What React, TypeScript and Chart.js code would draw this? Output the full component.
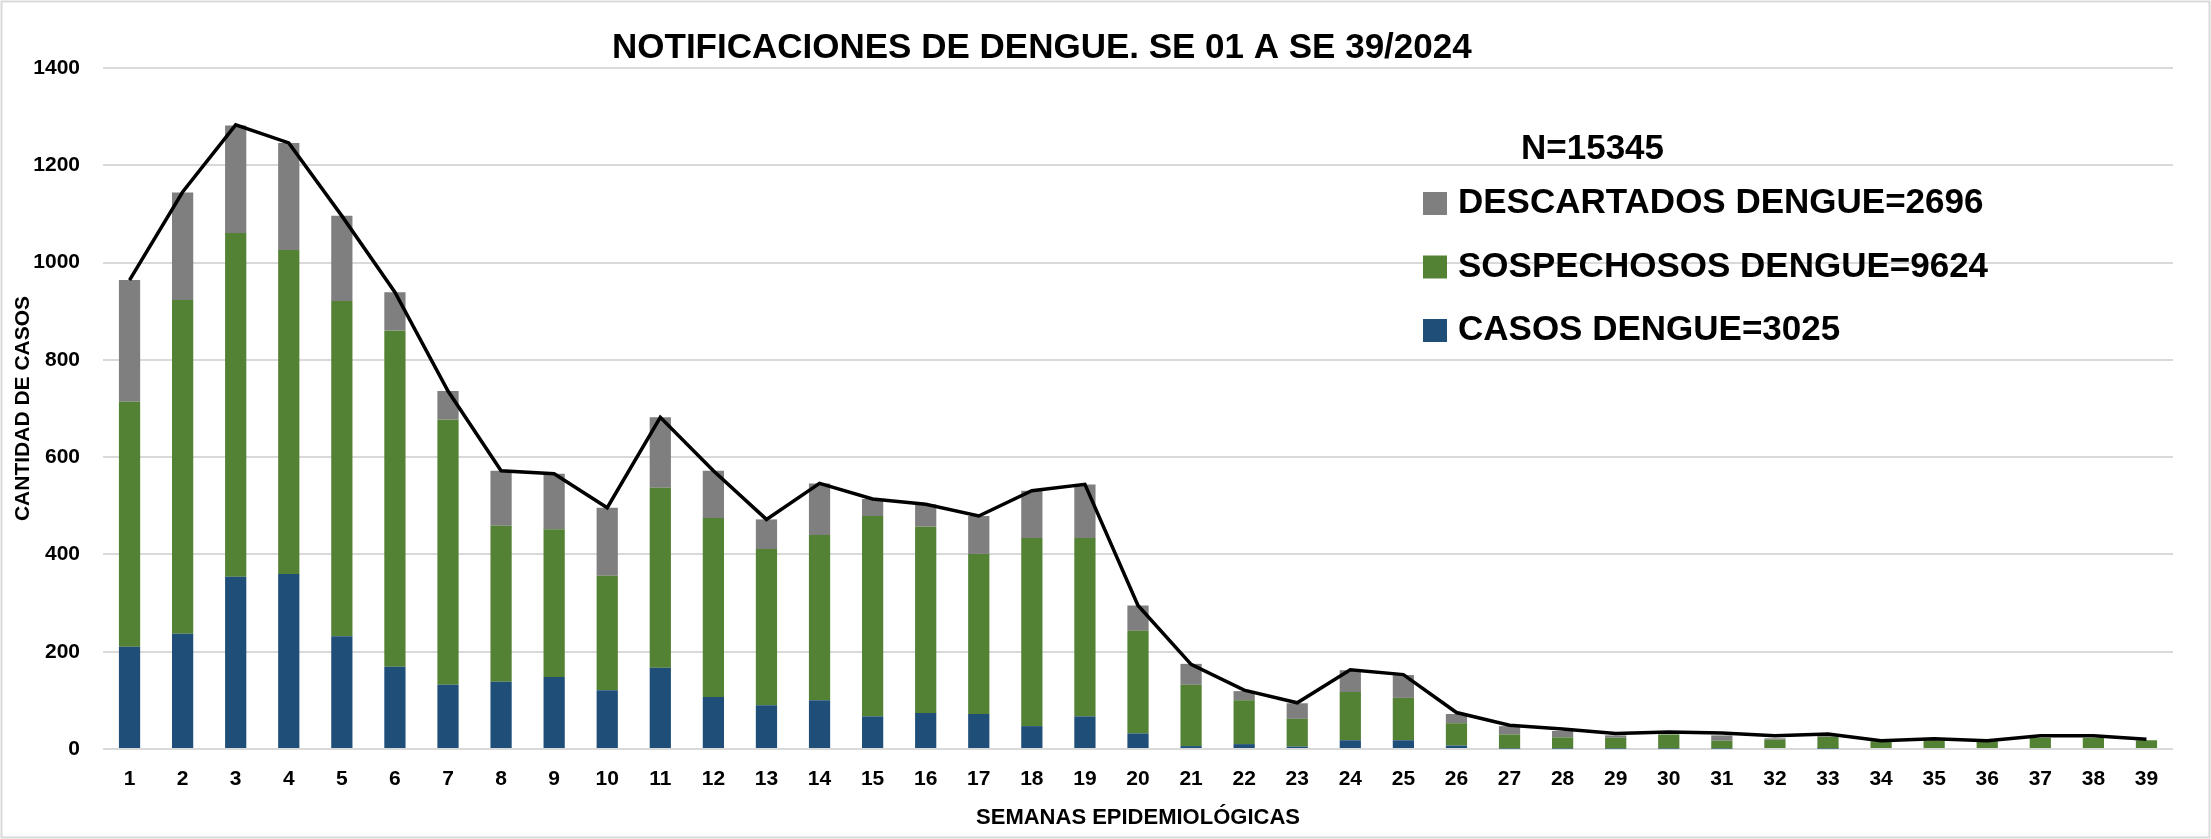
import React, { useEffect, useRef } from "react";
import { Chart, registerables } from "chart.js";

Chart.register(...registerables);

const TITLE = "NOTIFICACIONES DE DENGUE. SE 01 A SE 39/2024";
const N_LABEL = "N=15345";
const Y_TITLE = "CANTIDAD DE CASOS";
const X_TITLE = "SEMANAS EPIDEMIOLÓGICAS";

const WEEKS = [
  "1", "2", "3", "4", "5", "6", "7", "8", "9", "10",
  "11", "12", "13", "14", "15", "16", "17", "18", "19", "20",
  "21", "22", "23", "24", "25", "26", "27", "28", "29", "30",
  "31", "32", "33", "34", "35", "36", "37", "38", "39",
];

const CASOS = [
  210, 237, 354, 360, 232, 169, 132, 138, 148, 121,
  167, 107, 90, 100, 67, 74, 72, 47, 67, 32,
  6, 10, 5, 18, 18, 7, 1, 1, 1, 1,
  1, 0, 1, 0, 0, 0, 0, 0, 0,
];

const SOSPECHOSOS = [
  504, 686, 707, 666, 689, 691, 545, 321, 304, 235,
  370, 368, 321, 340, 412, 383, 329, 387, 367, 211,
  126, 90, 57, 99, 87, 46, 29, 23, 22, 29,
  16, 19, 24, 16, 18, 16, 23, 23, 18,
];

const DESCARTADOS = [
  250, 221, 221, 220, 175, 79, 59, 113, 114, 140,
  145, 97, 61, 106, 35, 46, 78, 97, 110, 52,
  43, 19, 32, 45, 47, 19, 17, 13, 5, 0,
  11, 3, 2, 0, 0, 0, 0, 0, 0,
];

const TOTALES = [
  964, 1145, 1283, 1246, 1096, 939, 736, 572, 566, 496,
  682, 572, 472, 546, 514, 503, 479, 531, 544, 295,
  174, 121, 95, 163, 153, 75, 49, 41, 32, 35,
  33, 27, 31, 17, 21, 17, 27, 27, 20,
];

const LEGEND_LABELS = [
  "DESCARTADOS DENGUE=2696",
  "SOSPECHOSOS DENGUE=9624",
  "CASOS DENGUE=3025",
];

const C_GRAY = "#7f7f7f";
const C_GREEN = "#548235";
const C_BLUE = "#1f4e79";
const FONT = '"Liberation Sans", Arial, sans-serif';

const overlayPlugin = {
  id: "overlay",
  afterDraw(chart: any) {
    const ctx = chart.ctx;
    ctx.save();
    ctx.strokeStyle = "#d9d9d9";
    ctx.lineWidth = 2;
    ctx.strokeRect(1.5, 1.5, chart.width - 3, chart.height - 3);

    ctx.fillStyle = "#000";
    ctx.textAlign = "left";
    ctx.textBaseline = "alphabetic";
    ctx.font = `bold 35px ${FONT}`;
    ctx.fillText(TITLE, 612, 58);
    ctx.fillText(N_LABEL, 1521, 159);

    const colors = [C_GRAY, C_GREEN, C_BLUE];
    LEGEND_LABELS.forEach((label, i) => {
      const base = 213 + i * 63.5;
      ctx.fillStyle = colors[i];
      ctx.fillRect(1423, base - 21, 24, 23);
      ctx.fillStyle = "#000";
      ctx.fillText(label, 1458, base);
    });
    ctx.restore();
  },
};

export default function App() {
  const canvasRef = useRef<HTMLCanvasElement | null>(null);

  useEffect(() => {
    if (!canvasRef.current) return;
    Chart.defaults.font.family = FONT;
    const chart = new Chart(canvasRef.current, {
      type: "bar",
      data: {
        labels: WEEKS,
        datasets: [
          {
            type: "line",
            label: "TOTAL",
            data: TOTALES,
            borderColor: "#000",
            borderWidth: 3.5,
            pointRadius: 0,
            tension: 0,
            fill: false,
            order: 0,
            stack: "total",
          } as any,
          {
            label: "CASOS DENGUE",
            data: CASOS,
            backgroundColor: C_BLUE,
            stack: "s",
            order: 1,
          },
          {
            label: "SOSPECHOSOS DENGUE",
            data: SOSPECHOSOS,
            backgroundColor: C_GREEN,
            stack: "s",
            order: 1,
          },
          {
            label: "DESCARTADOS DENGUE",
            data: DESCARTADOS,
            backgroundColor: C_GRAY,
            stack: "s",
            order: 1,
          },
        ],
      },
      options: {
        responsive: false,
        animation: false,
        layout: { padding: { top: 68, left: 0, right: 38, bottom: 0 } },
        datasets: {
          bar: { categoryPercentage: 1, barPercentage: 0.4 },
        },
        plugins: {
          legend: { display: false },
          tooltip: { enabled: false },
          title: { display: false },
        },
        scales: {
          x: {
            stacked: true,
            afterFit: (s: any) => {
              s.height = 90;
            },
            grid: { display: false, drawTicks: false },
            border: { display: false },
            ticks: {
              color: "#000",
              font: { size: 21, weight: "bold" },
              padding: 18,
              maxRotation: 0,
              autoSkip: false,
            },
            title: {
              display: true,
              text: X_TITLE,
              color: "#000",
              font: { size: 22, weight: "bold" },
              padding: { top: 0, bottom: 8 },
            },
          },
          y: {
            stacked: true,
            min: 0,
            max: 1400,
            afterFit: (s: any) => {
              s.width = 103;
            },
            grid: { color: "#d9d9d9", lineWidth: 2, drawTicks: false },
            border: { display: false },
            ticks: {
              stepSize: 200,
              color: "#000",
              font: { size: 21, weight: "bold" },
              padding: 23,
              callback: (v: any) => String(v),
            },
            title: {
              display: true,
              text: Y_TITLE,
              color: "#000",
              font: { size: 21, weight: "bold" },
              padding: { top: 11, bottom: 0 },
            },
          },
        },
      },
      plugins: [overlayPlugin],
    });
    return () => chart.destroy();
  }, []);

  return (
    <div
      style={{
        position: "fixed",
        left: 0,
        top: 0,
        width: 2211,
        height: 839,
        background: "#fff",
      }}
    >
      <canvas ref={canvasRef} width={2211} height={839} style={{ display: "block" }} />
    </div>
  );
}
